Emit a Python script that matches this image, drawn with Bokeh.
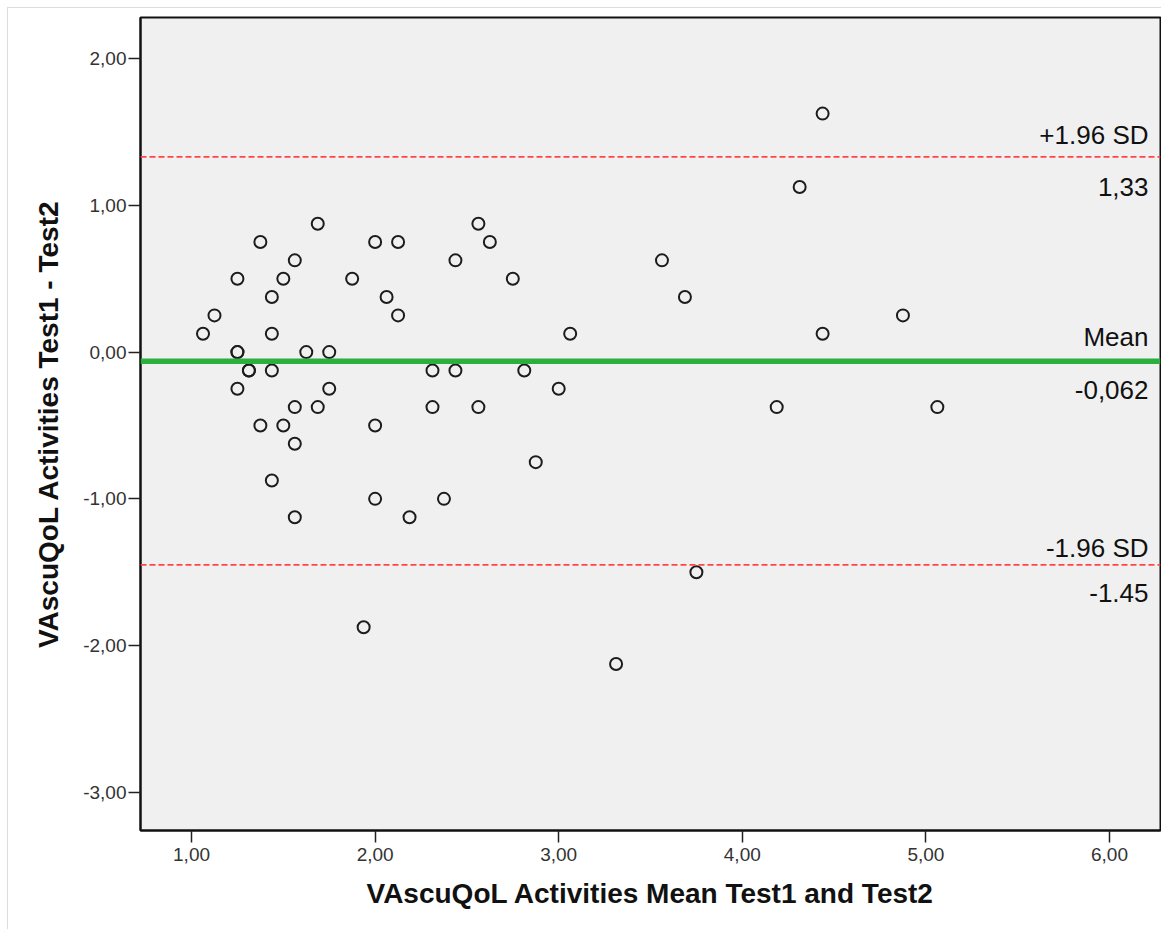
from bokeh.plotting import figure
from bokeh.models import ColumnDataSource, Span, Range1d, FixedTicker
from bokeh.core.properties import value
from bokeh.embed import file_html
from bokeh.resources import INLINE

# ---- data ----
mean_x = [1.0625, 1.125, 1.25, 1.25, 1.25, 1.25, 1.3125, 1.3125, 1.375, 1.375,
          1.4375, 1.4375, 1.4375, 1.4375, 1.5, 1.5, 1.5625, 1.5625, 1.5625, 1.5625,
          1.625, 1.6875, 1.6875, 1.75, 1.75, 1.875, 1.9375, 2.0, 2.0, 2.0,
          2.0625, 2.125, 2.125, 2.1875, 2.3125, 2.3125, 2.375, 2.4375, 2.4375, 2.5625,
          2.5625, 2.625, 2.75, 2.8125, 2.875, 3.0, 3.0625, 3.3125, 3.5625, 3.6875,
          3.75, 4.1875, 4.3125, 4.4375, 4.4375, 4.875, 5.0625]
diff_y = [0.125, 0.25, 0.5, 0.0, 0.0, -0.25, -0.125, -0.125, 0.75, -0.5,
          0.375, 0.125, -0.125, -0.875, 0.5, -0.5, 0.625, -0.375, -0.625, -1.125,
          0.0, 0.875, -0.375, 0.0, -0.25, 0.5, -1.875, 0.75, -0.5, -1.0,
          0.375, 0.75, 0.25, -1.125, -0.125, -0.375, -1.0, 0.625, -0.125, 0.875,
          -0.375, 0.75, 0.5, -0.125, -0.75, -0.25, 0.125, -2.125, 0.625, 0.375,
          -1.5, -0.375, 1.125, 1.625, 0.125, 0.25, -0.375]

x_ticks = [1, 2, 3, 4, 5, 6]
x_tick_labels = ["1,00", "2,00", "3,00", "4,00", "5,00", "6,00"]
y_ticks = [-3, -2, -1, 0, 1, 2]
y_tick_labels = ["-3,00", "-2,00", "-1,00", "0,00", "1,00", "2,00"]

limit_values = [1.33, -0.062, -1.45]
limit_names = ["+1.96 SD", "Mean", "-1.96 SD"]
limit_value_labels = ["1,33", "-0,062", "-1.45"]

x_title = "VAscuQoL Activities Mean Test1 and Test2"
y_title = "VAscuQoL Activities Test1 - Test2"

# ---- layout / style ----
X_RANGE = (0.722, 6.278)
Y_RANGE = (-3.26, 2.28)
W, H = 1154, 922
BL, BR, BT, BB = 132, 2, 9, 100
FRAME_W = W - BL - BR
FRAME_H = H - BT - BB
px_x = (X_RANGE[1] - X_RANGE[0]) / FRAME_W
px_y = (Y_RANGE[1] - Y_RANGE[0]) / FRAME_H
FONT = "Liberation Sans"

p = figure(width=W, height=H, output_backend="svg", toolbar_location=None,
           x_range=Range1d(*X_RANGE), y_range=Range1d(*Y_RANGE),
           min_border_left=BL, min_border_right=BR, min_border_top=BT, min_border_bottom=BB,
           background_fill_color="#f0f0f0", border_fill_color="white",
           outline_line_color="#111111", outline_line_width=2,
           styles={"margin-left": "7px", "margin-top": "7px",
                   "border-top": "1px solid #dcdcdc", "border-left": "1px solid #dcdcdc"})

p.xgrid.visible = False
p.ygrid.visible = False

for ax, ticks, labels in ((p.xaxis[0], x_ticks, x_tick_labels), (p.yaxis[0], y_ticks, y_tick_labels)):
    ax.ticker = FixedTicker(ticks=ticks)
    ax.major_label_overrides = {t: l for t, l in zip(ticks, labels)}
    ax.minor_tick_line_color = None
    ax.major_tick_in = 0
    ax.major_tick_out = 12
    ax.major_tick_line_color = "#222222"
    ax.major_tick_line_width = 1.5
    ax.axis_line_color = "#111111"
    ax.axis_line_width = 2
    ax.major_label_text_font = FONT
    ax.major_label_text_font_size = "19px"
    ax.major_label_text_color = "#333333"
    ax.axis_label_text_font = FONT
    ax.axis_label_text_font_size = "28px"
    ax.axis_label_text_font_style = "bold"
    ax.axis_label_text_color = "#111111"

p.xaxis.axis_label = x_title
p.yaxis.axis_label = y_title
p.xaxis.major_label_standoff = 5
p.yaxis.major_label_standoff = 2
p.xaxis.axis_label_standoff = 14
p.yaxis.axis_label_standoff = 16

# limit lines
line_styles = [dict(line_color="#ff4545", line_width=1.6, line_dash="6 3"),
               dict(line_color="#2bb03f", line_width=5.5),
               dict(line_color="#ff4545", line_width=1.6, line_dash="6 3")]
for v, st in zip(limit_values, line_styles):
    p.add_layout(Span(location=v, dimension="width", **st))

# points
src = ColumnDataSource(dict(x=mean_x, y=diff_y))
p.scatter("x", "y", source=src, marker="circle", size=12, fill_color=None,
          line_color="#1c1c1c", line_width=2)

# labels for limit lines
above_px = [21.5, 24.5, 16.5]
below_px = [30.5, 29.0, 28.5]
label_x = X_RANGE[1] - 12 * px_x
names_src = ColumnDataSource(dict(
    x=[label_x] * 3,
    y=[v + a * px_y for v, a in zip(limit_values, above_px)],
    t=limit_names))
vals_src = ColumnDataSource(dict(
    x=[label_x] * 3,
    y=[v - b * px_y for v, b in zip(limit_values, below_px)],
    t=limit_value_labels))
for s in (names_src, vals_src):
    p.text("x", "y", text="t", source=s, text_align="right", text_baseline="middle",
           text_font=value(FONT), text_font_size="26px", text_color="#111111")

open("out.html", "w").write(file_html(p, INLINE))
